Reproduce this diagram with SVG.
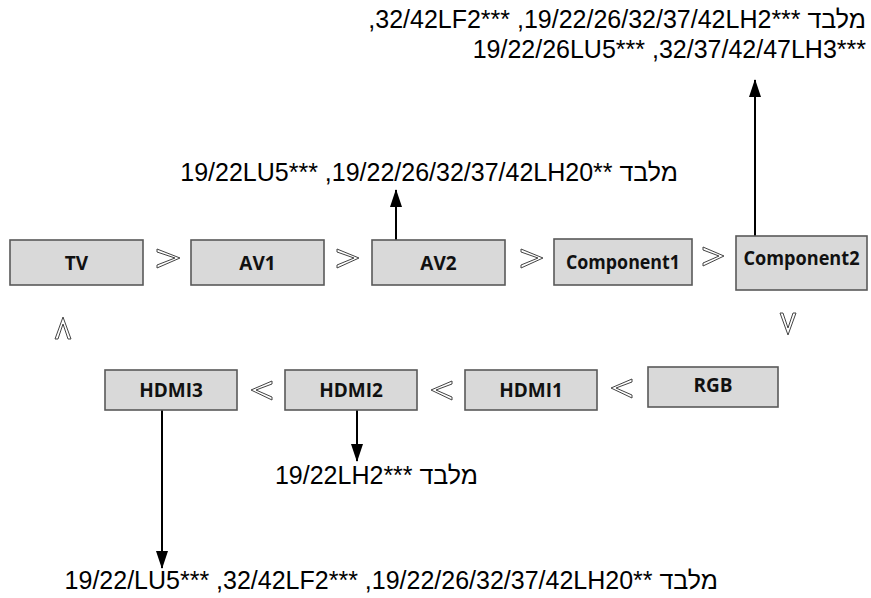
<svg xmlns="http://www.w3.org/2000/svg" width="871" height="598" viewBox="0 0 871 598">
<style>
.box{fill:#d9d9d9;stroke:#595959;stroke-width:1.6}
.bt{font-family:"Open Sans","Noto Sans",sans-serif;font-weight:bold;font-size:19px;fill:#111;text-anchor:middle;dominant-baseline:central}
.lbl{font-family:"Liberation Sans",Arial,sans-serif;font-size:25px;fill:#000}
.sep{fill:#fff;stroke:#444;stroke-width:1}
.conn{stroke:#000;stroke-width:2;fill:none}
</style>
<defs>
<marker id="ah" viewBox="0 0 18 12" refX="17" refY="6" markerWidth="18" markerHeight="12" orient="auto" markerUnits="userSpaceOnUse">
<path d="M0,0 L18,6 L0,12 z" fill="#000"/>
</marker>
</defs>
<g id="sep-marks">
<path class="sep" d="M157,249 L180,258 L157,268 L157,265 L175,258 L157,252 z"/>
<path class="sep" d="M337,249 L359,258 L337,268 L337,265 L354,258 L337,252 z"/>
<path class="sep" d="M521,249 L543,258 L521,268 L521,265 L538,258 L521,252 z"/>
<path class="sep" d="M703,247 L724,256 L703,266 L703,263 L719,256 L703,250 z"/>
<path class="sep" d="M55,339 L63,317 L71,339 L68,339 L63,324 L58,339 z"/>
<path class="sep" d="M780,313 L788,335 L796,313 L793,313 L788,328 L783,313 z"/>
<path class="sep" d="M272,381 L251,390 L272,400 L272,397 L256,390 L272,384 z"/>
<path class="sep" d="M452,381 L431,390 L452,400 L452,397 L436,390 L452,384 z"/>
<path class="sep" d="M632,379 L611,388 L632,398 L632,395 L616,388 L632,382 z"/>
</g>
<g id="connectors">
<line class="conn" x1="396" y1="240" x2="396" y2="190" marker-end="url(#ah)"/>
<line class="conn" x1="755" y1="236" x2="755" y2="80" marker-end="url(#ah)"/>
<line class="conn" x1="357" y1="410" x2="357" y2="461" marker-end="url(#ah)"/>
<line class="conn" x1="162" y1="410" x2="162" y2="568" marker-end="url(#ah)"/>
</g>
<g id="tv"><rect class="box" x="10" y="240" width="133" height="45"/><text class="bt" x="76.5" y="262.5">TV</text></g>
<g id="av1"><rect class="box" x="191" y="240" width="133" height="45"/><text class="bt" x="257.5" y="262.5">AV1</text></g>
<g id="av2"><rect class="box" x="372" y="240" width="133" height="45"/><text class="bt" x="438.5" y="262.5">AV2</text></g>
<g id="component1"><rect class="box" x="554" y="239" width="138" height="46"/><text class="bt" x="623" y="262" textLength="114" lengthAdjust="spacingAndGlyphs">Component1</text></g>
<g id="component2"><rect class="box" x="736" y="236" width="131" height="54"/><text class="bt" x="801.5" y="258" textLength="116" lengthAdjust="spacingAndGlyphs">Component2</text></g>
<g id="hdmi3"><rect class="box" x="105" y="370" width="132" height="40"/><text class="bt" x="171" y="390">HDMI3</text></g>
<g id="hdmi2"><rect class="box" x="285" y="370" width="132" height="40"/><text class="bt" x="351" y="390">HDMI2</text></g>
<g id="hdmi1"><rect class="box" x="465" y="370" width="132" height="40"/><text class="bt" x="531" y="390">HDMI1</text></g>
<g id="rgb"><rect class="box" x="648" y="367" width="130" height="40"/><text class="bt" x="713" y="385">RGB</text></g>
<g id="labels">
<text class="lbl" x="866" y="28" text-anchor="end">,32/42LF2***  ,19/22/26/32/37/42LH2***  מלבד</text>
<text class="lbl" x="866" y="58" text-anchor="end">19/22/26LU5***  ,32/37/42/47LH3***</text>
<text class="lbl" x="678" y="181" text-anchor="end">19/22LU5***  ,19/22/26/32/37/42LH20**  מלבד</text>
<text class="lbl" x="478" y="484" text-anchor="end">19/22LH2***  מלבד</text>
<text class="lbl" x="718" y="589" text-anchor="end">19/22/LU5***  ,32/42LF2***  ,19/22/26/32/37/42LH20**  מלבד</text>
</g>
</svg>
